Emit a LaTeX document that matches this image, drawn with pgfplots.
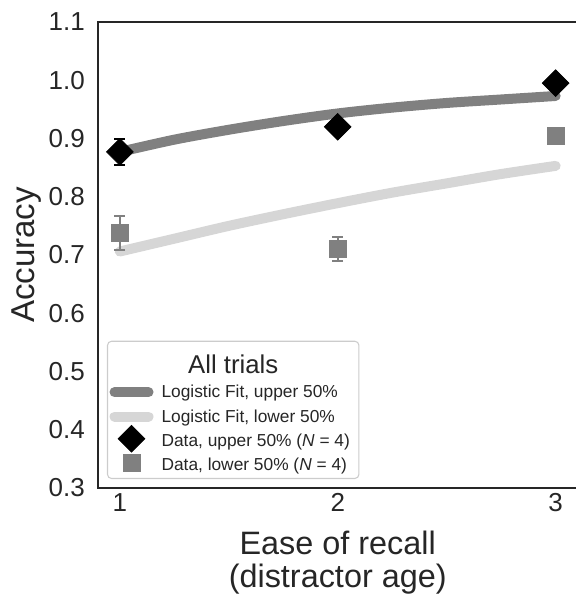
\documentclass[border=0pt]{standalone}
\usepackage{fontspec}
\setmainfont{Liberation Sans}
\usepackage{pgfplots}
\pgfplotsset{compat=1.18}
\definecolor{spine}{RGB}{38,38,38}
\definecolor{txt}{RGB}{38,38,38}
\definecolor{fitup}{RGB}{128,128,128}
\definecolor{fitlo}{RGB}{214,214,214}
\definecolor{lgedge}{RGB}{204,204,204}

\pgfplotsset{
  lineleg/.style={legend image code/.code={\path[draw=none,fill=none] (0pt,0pt) -- (33pt,0pt); \draw[sharp corners,##1] (3.75pt,0pt) -- (29.25pt,0pt);}},
  markleg/.style={legend image code/.code={\path[draw=none,fill=none] (0pt,0pt) -- (33pt,0pt); \draw[sharp corners,overlay,##1] plot coordinates {(16.5pt,1.5pt)};}},
}

\pgfplotstableread{
x y e
1 0.877 0.022
2 0.920 0.005
3 0.995 0.005
}\upperdata
\pgfplotstableread{
x y e
1 0.738 0.029
2 0.710 0.021
3 0.905 0.005
}\lowerdata
\pgfplotstableread{
x y
1.00 0.877
1.25 0.898
1.50 0.915
1.75 0.930
2.00 0.943
2.25 0.953
2.50 0.961
2.75 0.967
3.00 0.973
}\upperfit
\pgfplotstableread{
x y
1.00 0.706
1.25 0.728
1.50 0.750
1.75 0.770
2.00 0.789
2.25 0.807
2.50 0.823
2.75 0.839
3.00 0.853
}\lowerfit

\begin{document}
\begin{tikzpicture}
\begin{axis}[
  scale only axis,
  width=359.6pt, height=349.5pt,
  xmin=0.9, xmax=3.1, ymin=0.3, ymax=1.1,
  xtick={1,2,3},
  ytick={0.3,0.4,0.5,0.6,0.7,0.8,0.9,1.0,1.1},
  y tick label style={/pgf/number format/.cd, fixed, fixed zerofill, precision=1, /tikz/.cd},
  /pgf/number format/assume math mode=true,
  major tick length=0pt,
  tick label style={font=\fontsize{19.5}{22}\selectfont, text=txt},
  yticklabel style={inner sep=0pt, xshift=-9.75pt},
  xticklabel style={inner sep=0pt, yshift=-3.75pt},
  axis line style={spine, line width=1pt},
  xlabel={Ease of recall\\(distractor age)},
  xlabel style={at={(axis description cs:0.5,0)}, anchor=north, inner sep=0pt, yshift=-32pt,
    align=center, font=\fontsize{24.3}{25}\selectfont, text=txt},
  ylabel={Accuracy},
  ylabel style={at={([xshift=-47.25pt]axis description cs:0,0.5)}, anchor=base, inner sep=0pt,
    font=\fontsize{24.8}{28}\selectfont, text=txt},
  legend cell align=left,
  legend style={at={(axis description cs:0,0)}, anchor=south west, xshift=6.75pt, yshift=6.75pt,
    draw=lgedge, line width=0.8pt, rounded corners=3pt, fill=white,
    inner xsep=1.5pt, inner ysep=4.3pt, row sep=6.7pt, column sep=6pt,
    nodes={inner sep=0pt, text=txt},
    font=\fontsize{13}{15}\selectfont},
]
\coordinate (ll) at (rel axis cs:0,0);
\coordinate (ur) at (rel axis cs:1,1);

\addlegendimage{empty legend}
\addlegendentry{\rule[-3pt]{0pt}{23pt}\hspace*{20pt}\fontsize{19.3}{21}\selectfont All trials}

\addplot[fitup, line width=7.5pt, line cap=round, smooth, lineleg]
  table[x=x,y=y] {\upperfit};
\addlegendentry{\rule[-3pt]{0pt}{13pt}Logistic Fit, upper 50\%\hspace*{5.25pt}}

\addplot[fitlo, line width=7.5pt, line cap=round, smooth, lineleg]
  table[x=x,y=y] {\lowerfit};
\addlegendentry{\rule[-3pt]{0pt}{13pt}Logistic Fit, lower 50\%\hspace*{5.25pt}}

\addplot[black, only marks, mark=square*, mark size=7.1pt, mark options={rotate=45, fill=black, draw=black, line width=0.5pt}, markleg,
  error bars/.cd, y dir=both, y explicit,
  error bar style={line width=1.5pt, black},
  error mark options={rotate=90, mark size=4pt, line width=1.5pt, black}]
  table[x=x,y=y,y error=e] {\upperdata};
\addlegendentry{\rule[-3pt]{0pt}{13pt}Data, upper 50\% (\textit{N} = 4)\hspace*{5.25pt}}

\addplot[fitup, only marks, mark=square*, mark size=6.4pt, mark options={fill=fitup, draw=fitup, line width=0.5pt}, markleg,
  error bars/.cd, y dir=both, y explicit,
  error bar style={line width=1.5pt, fitup},
  error mark options={rotate=90, mark size=4pt, line width=1.5pt, fitup}]
  table[x=x,y=y,y error=e] {\lowerdata};
\addlegendentry{\rule[-3pt]{0pt}{13pt}Data, lower 50\% (\textit{N} = 4)\hspace*{5.25pt}}
\end{axis}
\pgfresetboundingbox
\path[use as bounding box] ([xshift=-73.5pt,yshift=-81.75pt]ll) rectangle ([xshift=-1.125pt,yshift=16.5pt]ur);
\end{tikzpicture}
\end{document}
